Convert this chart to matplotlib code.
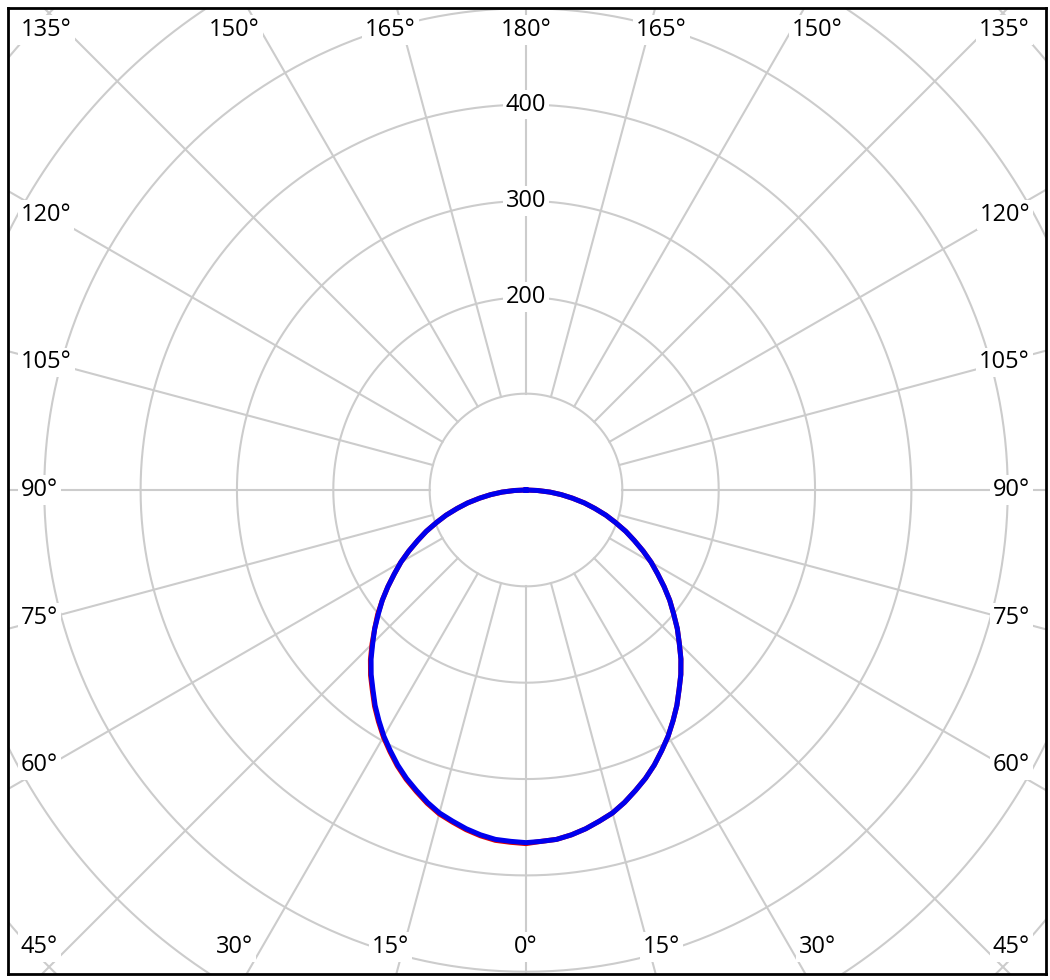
import numpy as np
import matplotlib
matplotlib.use('Agg')
import matplotlib.pyplot as plt

# Light distribution curve (cd/klm), gamma measured from straight down
gamma = np.arange(0, 92.5, 2.5)
c90_c270 = np.array([366, 365, 364, 361, 357, 352, 347, 340, 332, 324,
                     315, 305, 295, 284, 273, 261, 250, 238, 225, 213,
                     200, 188, 175, 162, 150, 137, 124, 112, 99, 87,
                     74, 62, 49, 37, 25, 12, 0])
c0 = np.array([366, 365, 364, 361, 357, 352, 347, 340, 332, 324,
               315, 305, 295, 284, 273, 261, 250, 238, 225, 213,
               200, 188, 175, 162, 150, 137, 124, 112, 99, 87,
               74, 62, 49, 37, 25, 12, 0])
c180 = np.array([367, 366, 365, 362, 358, 353, 348, 341, 333, 325,
                 316, 306, 296, 285, 274, 262, 251, 239, 226, 213,
                 201, 188, 175, 162, 150, 137, 124, 112, 99, 87,
                 74, 62, 49, 37, 25, 12, 0])

rings = [100, 200, 300, 400, 500, 600, 700, 800]
ring_labels = [200, 300, 400]
angle_ticks = list(range(0, 195, 15))

# Layout (pixels) -> data units
W, H = 1050, 980
S = 0.9635          # px per cd
CX, CY = 526, 490   # centre in pixels
L, R, T, B = 8, 1046, 8, 974

plt.rcParams['font.family'] = ['Open Sans', 'DejaVu Sans']

fig = plt.figure(figsize=(W / 100, H / 100), dpi=100)
ax = fig.add_axes([L / W, 1 - B / H, (R - L) / W, (B - T) / H])
ax.set_xlim((L - CX) / S, (R - CX) / S)
ax.set_ylim((CY - B) / S, (CY - T) / S)
ax.set_xticks([])
ax.set_yticks([])
for sp in ax.spines.values():
    sp.set_linewidth(2)
    sp.set_color('black')

grid = '#cccccc'
t = np.linspace(0, 2 * np.pi, 721)
for r in rings:
    ax.plot(r * np.cos(t), r * np.sin(t), color=grid, lw=1.5, zorder=1)
for a in range(0, 360, 15):
    rad = np.radians(a)
    ax.plot([100 * np.sin(rad), 1000 * np.sin(rad)],
            [-100 * np.cos(rad), -1000 * np.cos(rad)], color=grid, lw=1.5, zorder=1)

# curves
g = np.radians(gamma)

def curve(left, right):
    xs = np.concatenate([-left[::-1] * np.sin(g[::-1]), right[1:] * np.sin(g[1:])])
    ys = np.concatenate([-left[::-1] * np.cos(g[::-1]), -right[1:] * np.cos(g[1:])])
    return xs, ys

xr, yr = curve(c180, c0)
ax.plot(xr, yr, color='#e00000', lw=3.6, zorder=3, solid_joinstyle='round')
xb, yb = curve(c90_c270, c90_c270)
ax.plot(xb, yb, color='#0000ee', lw=3.6, zorder=4, solid_joinstyle='round')

box = dict(facecolor='white', edgecolor='none', pad=2)
fs = 17
for v in ring_labels:
    ax.text(0, v, str(v), ha='center', va='center', fontsize=fs, bbox=box, zorder=5)

row_bot = (CY - 947) / S
row_top = (CY - 30) / S
x_left = (21 - CX) / S
x_right = (1030 - CX) / S
row_dy = 505 / S
for a in angle_ticks:
    rad = np.radians(a)
    sides = [1] if a in (0, 180) else [-1, 1]
    for s in sides:
        lab = f'{a}°'
        if a in (0, 15, 30):
            x = s * row_dy * np.tan(rad)
            ax.text(x, row_bot, lab, ha='center', va='center', fontsize=fs, bbox=box, zorder=5)
        elif a in (150, 165, 180):
            x = s * row_dy * abs(np.tan(rad))
            ax.text(x, row_top, lab, ha='center', va='center', fontsize=fs, bbox=box, zorder=5)
        elif a in (45, 135):
            y = row_bot if a == 45 else row_top
            ax.text(x_left if s < 0 else x_right, y, lab, ha='left' if s < 0 else 'right',
                    va='center', fontsize=fs, bbox=box, zorder=5)
        else:
            dx = 476 / S
            y = -dx / np.tan(rad)
            ax.text(x_left if s < 0 else x_right, y, lab, ha='left' if s < 0 else 'right',
                    va='center', fontsize=fs, bbox=box, zorder=5)

fig.savefig('out.png', dpi=100, facecolor='white')
